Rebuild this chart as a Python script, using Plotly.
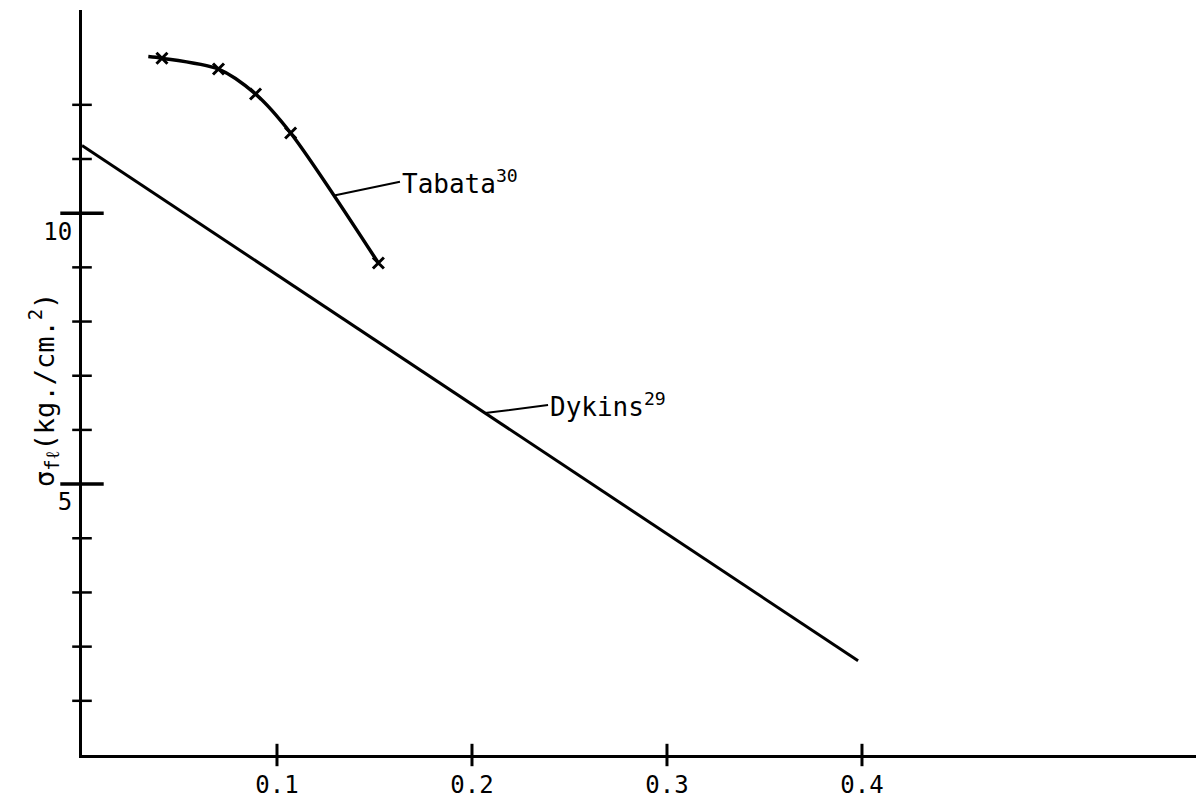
import numpy as np
import plotly.graph_objects as go

# ---- data ----
dykins_x = [0.0, 0.398]
dykins_y = [11.25, 1.74]

tabata_x = [0.034, 0.041, 0.070, 0.089, 0.107, 0.152]
tabata_y = [12.89, 12.86, 12.66, 12.20, 11.48, 9.08]
tabata_marker_x = [0.041, 0.070, 0.089, 0.107, 0.152]
tabata_marker_y = [12.86, 12.66, 12.20, 11.48, 9.08]

x_tick_vals = [0.1, 0.2, 0.3, 0.4]
x_tick_text = ["0.1", "0.2", "0.3", "0.4"]
y_major_vals = [5, 10]
y_major_text = ["5", "10"]
y_minor_vals = [1, 2, 3, 4, 6, 7, 8, 9, 11, 12]

label_names = ["Tabata<sup>30</sup>", "Dykins<sup>29</sup>"]
label_at_x = [0.1287, 0.2067]

X_MAX = 0.5713
Y_MAX = 13.75
FONT = "DejaVu Sans Mono"

fig = go.Figure()

fig.add_trace(go.Scatter(x=dykins_x, y=dykins_y, mode="lines",
                         line=dict(color="black", width=3), hoverinfo="skip"))
fig.add_trace(go.Scatter(x=tabata_x, y=tabata_y, mode="lines",
                         line=dict(color="black", width=3.5, shape="spline", smoothing=0.8),
                         hoverinfo="skip"))
fig.add_trace(go.Scatter(x=tabata_marker_x, y=tabata_marker_y, mode="markers",
                         marker=dict(symbol="x-thin-open", size=11, color="black",
                                     line=dict(color="black", width=3)),
                         hoverinfo="skip"))

# tick marks crossing the axes
fig.add_trace(go.Scatter(x=[0] * len(y_minor_vals), y=y_minor_vals, mode="markers",
                         marker=dict(symbol="line-ew", size=14, line=dict(color="black", width=2.5)),
                         hoverinfo="skip", cliponaxis=False))
fig.add_trace(go.Scatter(x=[0] * len(y_major_vals), y=y_major_vals, mode="markers",
                         marker=dict(symbol="line-ew", size=31, line=dict(color="black", width=3.5)),
                         hoverinfo="skip", cliponaxis=False))
fig.add_trace(go.Scatter(x=x_tick_vals, y=[0] * len(x_tick_vals), mode="markers",
                         marker=dict(symbol="line-ns", size=16, color="black",
                                     line=dict(color="black", width=3)),
                         hoverinfo="skip", cliponaxis=False))

# curve labels with leader lines
series_for_labels = [(tabata_x, tabata_y), (dykins_x, dykins_y)]
label_offsets = [(67, -14), (63, -8)]
for name, lx, (sx, sy), (ax, ay) in zip(label_names, label_at_x, series_for_labels, label_offsets):
    ly = float(np.interp(lx, sx, sy))
    fig.add_annotation(x=lx, y=ly, text=name, showarrow=True, arrowhead=0,
                       arrowwidth=2, arrowcolor="black", ax=ax, ay=ay,
                       xanchor="left", yanchor="middle", standoff=0, startstandoff=0,
                       font=dict(family=FONT, size=26, color="black"))

# y axis title
fig.add_annotation(text="σ<sub>fℓ</sub>(kg./cm.<sup>2</sup>)", xref="paper", yref="paper",
                   x=-0.034, y=0.49, textangle=-90, showarrow=False,
                   xanchor="center", yanchor="middle",
                   font=dict(family=FONT, size=27, color="black"))

fig.update_layout(
    width=1196, height=799,
    margin=dict(l=82, r=0, t=10, b=40),
    paper_bgcolor="white", plot_bgcolor="white",
    showlegend=False,
    xaxis=dict(range=[0, X_MAX], showgrid=False, zeroline=False, showline=True,
               linecolor="black", linewidth=3, tickvals=x_tick_vals, ticktext=x_tick_text,
               ticks="", ticklabelstandoff=6,
               tickfont=dict(family=FONT, size=24, color="black")),
    yaxis=dict(range=[0, Y_MAX], showgrid=False, zeroline=False, showline=True,
               linecolor="black", linewidth=3, tickvals=y_major_vals, ticktext=y_major_text,
               ticks="", ticklabelstandoff=2, ticklabelshift=18,
               tickfont=dict(family=FONT, size=24, color="black")),
)

fig.write_html("out.html")
